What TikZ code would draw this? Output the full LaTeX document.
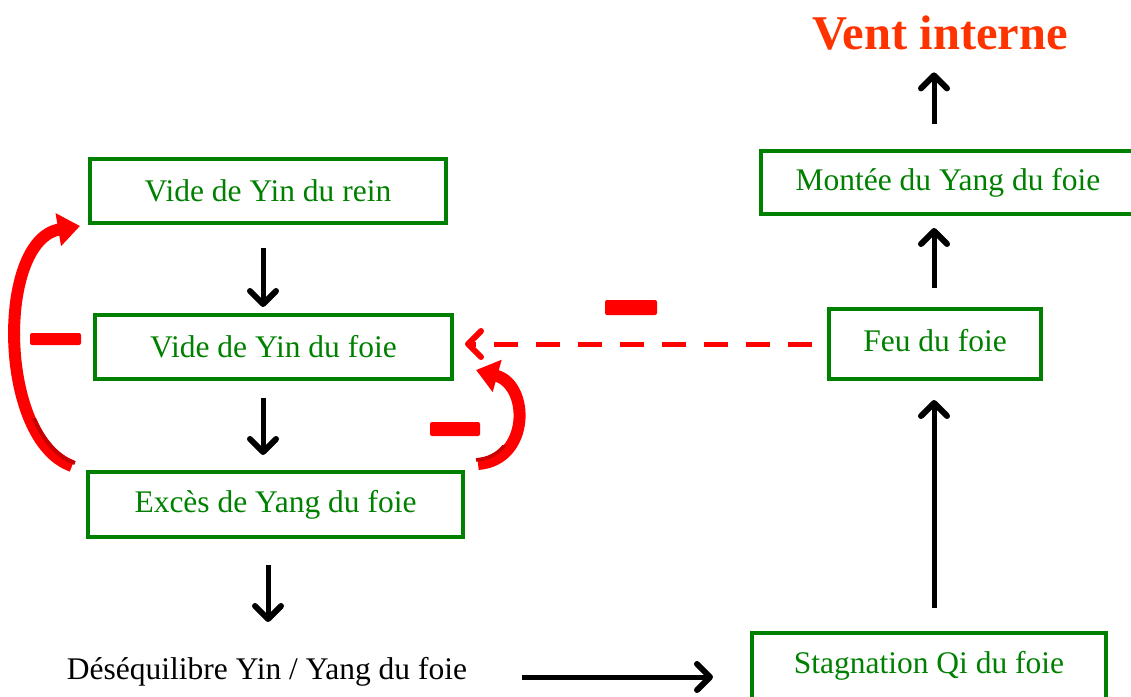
\documentclass[tikz,border=0pt]{standalone}
\usepackage{fontspec}
\setmainfont{Liberation Serif}
\usetikzlibrary{arrows.meta,calc}
\definecolor{boxgreen}{RGB}{0,128,0}
\definecolor{minusred}{RGB}{255,0,0}
\definecolor{ventred}{RGB}{255,51,0}
\definecolor{shadered}{RGB}{200,0,0}
\tikzset{
  labelfont/.style={font=\fontsize{31.5}{36}\selectfont},
  stepbox/.style={draw=boxgreen, line width=4pt, text=boxgreen, labelfont, inner sep=0pt},
  barbtip/.tip={Straight Barb[length=13pt,width=26pt,line width=6pt 0 1,round]},
  blackarrow/.style={draw=black, line width=5pt, -barbtip},
  inhib/.style={draw=minusred, line width=5pt, dash pattern=on 24pt off 18pt, -barbtip},
  bigcurve/.style={draw=minusred, line width=12pt, -{Triangle[length=22pt,width=32pt]}},
}
\begin{document}
\begin{tikzpicture}[x=1pt,y=-1pt]
\useasboundingbox (0,0) rectangle (1131,696);

% left column
\node[stepbox, minimum width=356pt, minimum height=64pt] (rein) at (268,191) {Vide de Yin du rein};
\node[stepbox, minimum width=357pt, minimum height=64pt] (foie) at (273.5,347) {Vide de Yin du foie};
\node[stepbox, minimum width=375pt, minimum height=65pt] (exces) at (275.5,504.5) {Excès de Yang du foie};
\node[labelfont, inner sep=0pt] (deseq) at (267,672) {Déséquilibre Yin / Yang du foie};

% right column
\node[stepbox, minimum width=374pt, minimum height=63pt] (montee) at (948,182.5) {Montée du Yang du foie};
\node[stepbox, minimum width=212pt, minimum height=70pt] (feu) at (935,344) {};
\node[text=boxgreen, labelfont] at (935,341) {Feu du foie};
\node[stepbox, minimum width=354pt, minimum height=72pt] (stag) at (929,669) {};
\node[text=boxgreen, labelfont] at (929,666) {Stagnation Qi du foie};
\node[text=ventred, font=\bfseries\fontsize{48.5}{52}\selectfont, inner sep=0pt] (vent) at (940,33) {Vent interne};

% black arrows
\draw[blackarrow] ($(rein.south)+(-5,23)$) -- ($(foie.north)+(-10.5,-6)$);
\draw[blackarrow] ($(foie.south)+(-10.5,17)$) -- ($(exces.north)+(-12.5,-15)$);
\draw[blackarrow] ($(exces.south)+(-7.5,26)$) -- ($(exces.south)+(-7.5,83)$);
\draw[blackarrow] ($(stag.west)+(-228,8)$) -- ($(stag.west)+(-37,8)$);
\draw[blackarrow] ($(stag.north)+(5,-23)$) -- ($(feu.south)+(-1,19)$);
\draw[blackarrow] ($(feu.north)+(-1,-19)$) -- ($(montee.south)+(-14,12)$);
\draw[blackarrow] ($(montee.north)+(-14,-25)$) -- ($(vent.south)+(-6,22)$);

% inhibition from the liver fire
\draw[inhib] ($(feu.west)+(-15,0)$) -- ($(foie.east)+(11,-3)$);
\fill[minusred, rounded corners=2pt] (605,300) rectangle (657,315);

% curved feedback arrows with their darker inner edge near the base
\draw[bigcurve] (72,466) .. controls (-2,440) and (-4,240) .. (80,226);
\begin{scope}
  \clip (20,418) rectangle (90,480);
  \draw[shadered, line width=4pt] (75,463) .. controls (1,437) and (-1,237) .. (83,223);
\end{scope}
\fill[minusred, rounded corners=2pt] (30,333) rectangle (81,345);

\draw[bigcurve] (478,464) .. controls (530,460) and (530,385) .. (476,370);
\begin{scope}
  \clip (470,445) rectangle (530,480);
  \draw[shadered, line width=3.5pt] (476,460) .. controls (526,456) and (526,381) .. (474,366);
\end{scope}
\fill[minusred, rounded corners=2pt] (430,422) rectangle (480,436);
\end{tikzpicture}
\end{document}
